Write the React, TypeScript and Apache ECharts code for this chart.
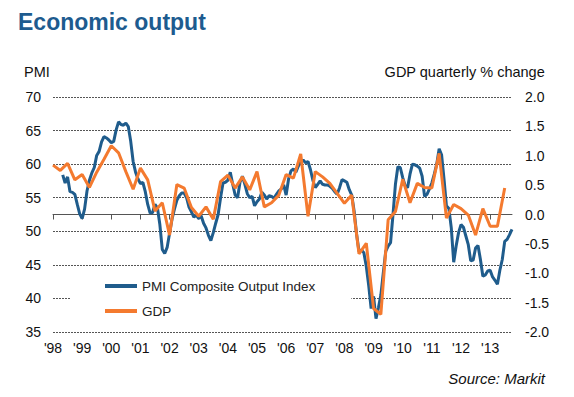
import React, { useEffect, useRef } from 'react';
import * as echarts from 'echarts';

const yearLabels = ["'98", "'99", "'00", "'01", "'02", "'03", "'04", "'05", "'06", "'07", "'08", "'09", "'10", "'11", "'12", "'13"];

// PMI Composite Output Index, monthly, first value = May 1998 (month index 4 from Jan 1998)
const pmiStartMonth = 4;
const pmiValues = [
  58.4, 57.2, 58.1, 55.9, 55.8, 55.5, 54.0, 52.6, 51.9, 53.3,
  56.0, 57.6, 58.7, 59.5, 61.3, 61.9, 63.3, 64.1, 63.9, 63.6,
  63.2, 63.4, 65.1, 66.3, 65.9, 65.8, 66.1, 65.6, 63.4, 60.4,
  58.8, 57.8, 57.1, 57.3, 55.9, 54.0, 52.7, 52.8, 54.0, 53.5,
  51.0, 47.3, 46.7, 47.6, 49.7, 51.8, 53.3, 54.6, 55.3, 55.7,
  55.7, 55.0, 53.6, 52.9, 52.1, 52.4, 51.9, 52.3, 51.2, 50.5,
  49.4, 48.6, 49.8, 51.2, 52.5, 55.0, 57.2, 57.3, 57.6, 58.8,
  57.0, 55.4, 55.0, 57.3, 58.2, 57.0, 55.6, 55.0, 55.2, 53.8,
  54.4, 54.8, 55.8, 55.4, 54.8, 55.3, 55.2, 54.9, 55.5, 56.0,
  56.3, 56.9, 55.4, 57.8, 59.0, 59.3, 58.8, 59.7, 60.3, 60.6,
  60.2, 60.4, 59.2, 57.6, 56.5, 57.0, 57.5, 57.0, 56.9, 56.9,
  56.7, 56.4, 55.9, 55.5, 56.5, 57.7, 57.5, 57.3, 56.2, 55.4,
  53.0, 49.6, 47.0, 47.2, 46.8, 44.8, 41.9, 38.5, 40.3, 37.0,
  38.6, 40.5, 43.8, 47.0, 47.8, 48.3, 52.5, 57.0, 59.6, 59.5,
  58.0, 56.8, 56.5, 58.5, 60.0, 59.9, 59.7, 59.4, 58.2, 55.2,
  55.5, 56.3, 57.2, 58.5, 60.0, 62.3, 61.4, 57.8, 53.8, 53.4,
  50.5, 45.4, 47.8, 49.8, 51.0, 50.6, 49.3, 48.0, 45.6, 45.7,
  47.5, 47.9, 45.8, 43.3, 43.5, 44.1, 44.2, 43.2, 42.7, 42.1,
  44.2, 45.8, 48.5, 48.8, 49.5, 50.3
];

// GDP quarterly % change, first value = Q1 1998, one value every 3 months
const gdpStartMonth = 0;
const gdpValues = [
  0.84, 0.75, 0.87, 0.59, 0.68, 0.46, 0.72, 0.94, 1.17, 1.05,
  0.73, 0.43, 0.79, 0.59, 0.06, 0.20, -0.35, 0.51, 0.45, 0.12,
  -0.03, 0.13, -0.08, 0.56, 0.67, 0.45, 0.64, 0.42, 0.73, 0.13,
  0.20, 0.33, 0.68, 0.62, 1.03, -0.03, 0.73, 0.64, 0.53, 0.36,
  0.19, 0.33, -0.67, -0.49, -1.60, -1.70, -0.09, 0.05, 0.60, 0.20,
  0.53, 0.46, 0.45, 1.04, -0.06, 0.17, 0.10, -0.01, -0.35, 0.10,
  -0.20, -0.20, 0.45
];

const FONT = "'Liberation Sans', Arial, Helvetica, sans-serif";
const BLUE = '#1f5c8c';
const ORANGE = '#f47a2f';
const LEGEND_ICON = 'path://M0,0H32V4H0Z';

export default function App() {
  const ref = useRef<HTMLDivElement>(null);

  useEffect(() => {
    document.body.style.margin = '0';
    const chart = echarts.init(ref.current!, null, { renderer: 'svg' });
    const pmiData = pmiValues.map((v, i) => [pmiStartMonth + i, v]);
    const gdpData = gdpValues.map((v, i) => [gdpStartMonth + 3 * i, v]);

    chart.setOption({
      animation: false,
      backgroundColor: '#ffffff',
      textStyle: { fontFamily: FONT },
      title: {
        text: 'Economic output',
        left: 13,
        top: 5,
        textStyle: { fontSize: 23, fontWeight: 'bold', color: '#1d5b8f', fontFamily: FONT }
      },
      grid: { left: 53, right: 62, top: 97, bottom: 65, containLabel: false },
      legend: {
        data: [
          { name: 'PMI Composite Output Index', icon: LEGEND_ICON },
          { name: 'GDP', icon: LEGEND_ICON }
        ],
        orient: 'vertical',
        left: 70,
        top: 271,
        itemWidth: 32,
        itemHeight: 14,
        itemGap: 11,
        padding: [8, 36, 8, 35],
        backgroundColor: '#ffffff',
        textStyle: { fontSize: 13.5, color: '#222', fontFamily: FONT }
      },
      xAxis: {
        type: 'value',
        min: 0,
        max: 189,
        interval: 12,
        axisLine: { show: true, lineStyle: { color: '#555', width: 1 } },
        axisTick: { show: true, length: 5, lineStyle: { color: '#555' } },
        axisLabel: {
          formatter: (v: number) => (v % 12 === 0 ? yearLabels[v / 12] || '' : ''),
          fontSize: 14,
          color: '#111',
          margin: 9,
          fontFamily: FONT,
          showMaxLabel: false
        },
        splitLine: { show: false }
      },
      yAxis: [
        {
          type: 'value',
          min: 35,
          max: 70,
          interval: 5,
          position: 'left',
          axisLine: { show: false },
          axisTick: { show: false },
          axisLabel: { fontSize: 14, color: '#111', margin: 12, fontFamily: FONT },
          splitLine: { show: true, lineStyle: { color: '#555', type: [2, 1], width: 1 } }
        },
        {
          type: 'value',
          min: -2,
          max: 2,
          interval: 0.5,
          position: 'right',
          axisLine: { show: false },
          axisTick: { show: false },
          axisLabel: {
            fontSize: 14,
            color: '#111',
            margin: 13,
            fontFamily: FONT,
            formatter: (v: number) => v.toFixed(1)
          },
          splitLine: { show: false }
        }
      ],
      graphic: [
        {
          type: 'text',
          left: 24,
          top: 64,
          style: { text: 'PMI', fontSize: 14.5, fill: '#111', fontFamily: FONT }
        },
        {
          type: 'text',
          right: 29,
          top: 64,
          style: { text: 'GDP quarterly % change', fontSize: 14.5, fill: '#111', fontFamily: FONT }
        },
        {
          type: 'text',
          right: 29,
          top: 371,
          style: { text: 'Source: Markit', fontSize: 15, fontStyle: 'italic', fill: '#111', fontFamily: FONT }
        }
      ],
      series: [
        {
          name: 'PMI Composite Output Index',
          type: 'line',
          yAxisIndex: 0,
          data: pmiData,
          symbol: 'none',
          lineStyle: { color: BLUE, width: 3 },
          itemStyle: { color: BLUE },
          z: 2
        },
        {
          name: 'GDP',
          type: 'line',
          yAxisIndex: 1,
          data: gdpData,
          symbol: 'none',
          lineStyle: { color: ORANGE, width: 3 },
          itemStyle: { color: ORANGE },
          z: 3
        }
      ]
    });

    return () => chart.dispose();
  }, []);

  return <div ref={ref} style={{ width: 574, height: 397 }} />;
}
